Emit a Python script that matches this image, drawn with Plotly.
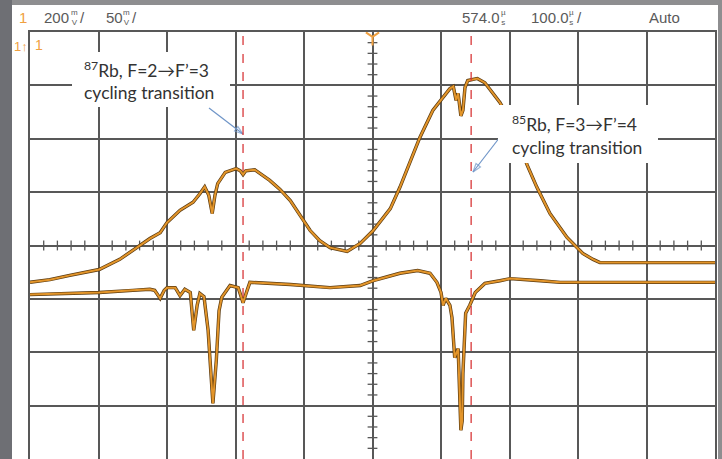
import plotly.graph_objects as go

# ---- data (horizontal: divisions of 100 us from left edge; vertical: divisions) ----
upper_t = [0.00, 0.29, 0.58, 1.01, 1.31, 1.50, 1.75, 1.90, 2.00, 2.19, 2.38, 2.48, 2.55, 2.61,
           2.66, 2.70, 2.74, 2.85, 3.01, 3.07, 3.11, 3.15, 3.28, 3.50, 3.65, 3.80, 3.94, 4.09,
           4.23, 4.38, 4.63, 4.82, 5.01, 5.26, 5.40, 5.59, 5.69, 5.88, 6.03, 6.13, 6.18, 6.22,
           6.25, 6.29, 6.32, 6.35, 6.39, 6.53, 6.64, 6.86, 7.01, 7.15, 7.26, 7.40, 7.59, 7.84,
           8.07, 8.22, 8.32, 10.0]
upper_v = [-0.69, -0.64, -0.56, -0.45, -0.26, -0.09, 0.13, 0.24, 0.43, 0.66, 0.81, 0.97, 1.10, 0.94,
           0.60, 0.94, 1.16, 1.37, 1.44, 1.40, 1.33, 1.40, 1.42, 1.22, 1.05, 0.84, 0.56, 0.28,
           0.09, -0.04, -0.11, 0.04, 0.28, 0.69, 1.09, 1.72, 2.02, 2.53, 2.77, 2.94, 2.98, 2.72,
           2.85, 2.43, 2.53, 2.96, 3.09, 3.13, 3.05, 2.68, 2.34, 1.87, 1.50, 1.09, 0.60, 0.15,
           -0.15, -0.26, -0.32, -0.32]

lower_t = [0.00, 0.44, 1.01, 1.50, 1.75, 1.82, 1.90, 1.96, 2.00, 2.12, 2.19, 2.26, 2.34, 2.39,
           2.44, 2.48, 2.54, 2.60, 2.67, 2.72, 2.76, 2.80, 2.92, 3.04, 3.11, 3.17, 3.21, 3.80,
           4.38, 4.82, 5.01, 5.40, 5.66, 5.84, 5.94, 6.00, 6.03, 6.07, 6.13, 6.16, 6.20, 6.25,
           6.28, 6.29, 6.31, 6.32, 6.36, 6.42, 6.50, 6.64, 6.86, 7.01, 7.45, 7.74, 10.0]
lower_v = [-0.92, -0.90, -0.88, -0.84, -0.82, -0.84, -0.99, -0.84, -0.79, -0.79, -0.94, -0.82, -0.88, -1.59,
           -1.12, -0.90, -0.96, -1.59, -2.96, -2.15, -1.22, -0.97, -0.75, -0.79, -1.07, -0.84, -0.69, -0.73,
           -0.79, -0.75, -0.66, -0.52, -0.47, -0.52, -0.69, -0.88, -1.12, -0.99, -1.12, -1.35, -2.10, -1.93,
           -2.90, -3.46, -3.28, -2.40, -1.27, -1.12, -0.88, -0.71, -0.66, -0.62, -0.66, -0.69, -0.69]

marker_t = [3.11, 6.44]   # red dashed cursor positions

header_left = ["1", "200", "50"]
label_87 = ["<sup>87</sup>Rb, F=2\u2192F\u2019=3", "cycling transition"]
label_85 = ["<sup>85</sup>Rb, F=3\u2192F\u2019=4", "cycling transition"]

# ---- geometry helpers (pixel -> paper / data) ----
W, H = 722, 459
L, T, R, B = 30, 32, 715, 459
def fx(px): return (px - L) / (R - L)
def fy(py): return (B - py) / (B - T)
def dx(px): return (px - L) / (R - L) * 10
def dy(py): return 4 - (py - T) / (B - T) * 8

GRID = "#585858"
ORANGE = "#e3952a"
DARK = "#5a3a10"
TXT = "#5a5a5a"
TRIG = "#f0a040"

fig = go.Figure()

# center-axis minor ticks
tx = [i * 0.2 for i in range(51) if i % 5 != 0]
ty = [-4 + i * 0.2 for i in range(41) if i % 5 != 0]
fig.add_trace(go.Scatter(x=tx, y=[0] * len(tx), mode="markers", hoverinfo="skip",
                         marker=dict(symbol="line-ns", size=7, color=GRID, line=dict(width=1.3, color=GRID))))
fig.add_trace(go.Scatter(x=[5] * len(ty), y=ty, mode="markers", hoverinfo="skip",
                         marker=dict(symbol="line-ew", size=7, color=GRID, line=dict(width=1.3, color=GRID))))

for tt, vv in [(upper_t, upper_v), (lower_t, lower_v)]:
    fig.add_trace(go.Scatter(x=tt, y=vv, mode="lines", line=dict(color=DARK, width=3.4), hoverinfo="skip"))
    fig.add_trace(go.Scatter(x=tt, y=vv, mode="lines", line=dict(color=ORANGE, width=2.0), hoverinfo="skip"))

# trigger marker
fig.add_trace(go.Scatter(x=[5], y=[3.91], mode="markers", cliponaxis=False, hoverinfo="skip",
                         marker=dict(symbol="y-down-open", size=11, color=TRIG, line=dict(width=2, color=TRIG))))

# annotation arrows (tail -> head)
for (hx, hy, tx_, ty_) in [(243, 134, 209, 108), (473, 172, 500, 137)]:
    fig.add_trace(go.Scatter(x=[dx(tx_), dx(hx)], y=[dy(ty_), dy(hy)], mode="lines+markers",
                             hoverinfo="skip", line=dict(color="#6f95c8", width=1.2),
                             marker=dict(symbol=["circle", "arrow-open"], size=[0, 9], angleref="previous",
                                         color="#6f95c8", line=dict(width=1.2, color="#6f95c8"))))

shapes = [
    # white screen area
    dict(type="rect", xref="paper", yref="paper", x0=fx(12), x1=fx(718), y0=fy(460), y1=fy(5),
         fillcolor="white", line=dict(width=0), layer="below"),
    # dark left strip
    dict(type="rect", xref="paper", yref="paper", x0=fx(0), x1=fx(12), y0=fy(460), y1=fy(0),
         fillcolor="#6e6f74", line=dict(width=0), layer="below"),
    # text boxes
    dict(type="rect", xref="paper", yref="paper", x0=fx(72), x1=fx(230), y0=fy(107), y1=fy(52),
         fillcolor="white", line=dict(width=0), layer="above"),
    dict(type="rect", xref="paper", yref="paper", x0=fx(498), x1=fx(658), y0=fy(163), y1=fy(105),
         fillcolor="white", line=dict(width=0), layer="above"),
]
for m in marker_t:
    shapes.append(dict(type="line", xref="x", yref="paper", x0=m, x1=m, y0=0, y1=1,
                       line=dict(color="#d8383a", width=1.3, dash="dash"), layer="above"))

ann = []
def txt(text, px, py, size=15, color=TXT, anchor="left", family="Liberation Sans"):
    ann.append(dict(text=text, xref="paper", yref="paper", x=fx(px), y=fy(py), showarrow=False,
                    xanchor=anchor, yanchor="middle", font=dict(size=size, color=color, family=family)))

# header
txt(header_left[0], 17, 18, color=TRIG)
txt(header_left[1], 42, 18)
txt("m<br>V", 69, 18, size=8); txt("/", 78, 18)
txt(header_left[2], 104, 18)
txt("m<br>V", 121, 18, size=8); txt("/", 130, 18)
txt("574.0", 460, 18)
txt("\u00b5<br>s", 499, 18, size=8)
txt("100.0", 529, 18)
txt("\u00b5<br>s", 567, 18, size=8); txt("/", 575, 18)
txt("Auto", 647, 18)
# channel marker
txt("1\u2191", 12, 46, color=TRIG, size=13)
txt("1", 33, 45, color=TRIG, size=14)

# labels
txt(label_87[0], 82, 69, size=17.5, color="#333333", family="Lato")
txt(label_87[1], 82, 92, size=17.5, color="#333333", family="Lato")
txt(label_85[0], 510, 123, size=17.5, color="#333333", family="Lato")
txt(label_85[1], 510, 147, size=17.5, color="#333333", family="Lato")

fig.update_layout(
    width=W, height=H,
    margin=dict(l=L, r=W - R, t=T, b=H - B, autoexpand=False),
    paper_bgcolor="#8e8e90", plot_bgcolor="white",
    showlegend=False, hovermode=False,
    shapes=shapes, annotations=ann,
    xaxis=dict(range=[0, 10], dtick=1, showgrid=True, gridcolor=GRID, gridwidth=1.5, zeroline=False,
               showticklabels=False, showline=True, linecolor=GRID, linewidth=1.5, mirror=True, ticks=""),
    yaxis=dict(range=[-4, 4], dtick=1, showgrid=True, gridcolor=GRID, gridwidth=1.5, zeroline=False,
               showticklabels=False, showline=True, linecolor=GRID, linewidth=1.5, mirror=True, ticks=""),
)

fig.write_html("out.html", config={"displayModeBar": False},
               post_script="document.body.style.margin='0';")
